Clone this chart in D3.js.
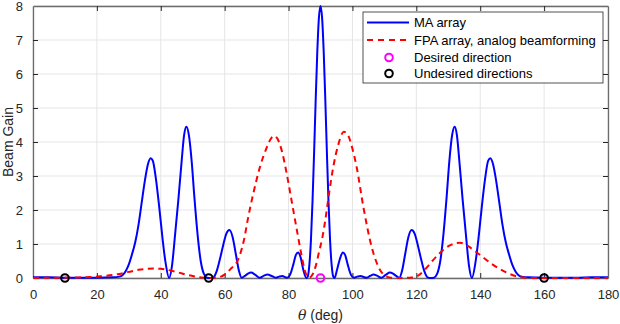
<!DOCTYPE html>
<html>
<head>
<meta charset="utf-8">
<script src="https://cdn.jsdelivr.net/npm/d3@7"></script>
<style>
  body { margin: 0; background: #fff; }
  svg { display: block; font-family: "Liberation Sans", Arial, Helvetica, sans-serif; }
</style>
</head>
<body>
<div id="chart"></div>
<script>
// MA array beam gain
var maTheta = [0, 5, 10, 15, 20, 25, 27, 28, 29, 30, 31, 32, 33, 34, 35, 36, 36.8, 37.5, 38.5, 39.5, 40.5, 41.5, 42.6,
  43.5, 44.5, 45.5, 46.5, 47.3, 48, 48.8, 49.7, 50.5, 51.5, 52.5, 53.5, 54.5, 55.5, 56.5, 57.5, 58.5, 59.5, 60.5, 61.5,
  62.5, 63.5, 64.5, 65.3, 66.3, 67.3, 68.3, 69.5, 71, 72.3, 73.4, 74.7, 76, 77, 78, 79.5, 80.5, 81.5, 82.3, 83, 83.8,
  84.6, 85.6, 86, 86.5, 87, 87.5, 88, 88.5, 89, 89.5, 90, 90.5, 91, 91.5, 92, 92.5, 93, 93.5, 94, 94.4, 95.2, 96.2, 97,
  97.7, 98.5, 99.5, 100.5, 101.5, 102.5, 103.5, 104.5, 105.5, 106.6, 107.7, 109, 110.5, 111.7, 112.7, 113.7, 114.7,
  115.5, 116.5, 117.5, 118.5, 119.5, 120.5, 121.5, 122.5, 123.5, 124.5, 125.5, 126.5, 127.5, 128.5, 129.5, 130.3, 131.2,
  132, 132.7, 133.5, 134.5, 135.5, 136.5, 137.4, 138.5, 139.5, 140.5, 141.5, 142.5, 143.2, 144, 145, 146, 147, 148, 149,
  150, 151, 152, 153, 155, 160, 165, 170, 175, 180];
var maGain = [0.02, 0.02, 0.01, 0.01, 0.01, 0.02, 0.04, 0.08, 0.2, 0.4, 0.7, 1.05, 1.55, 2.2, 2.85, 3.35, 3.52, 3.45, 2.9, 2.1, 1.2, 0.45, 0,
  0.35, 1.3, 2.3, 3.4, 4.2, 4.45, 4.2, 3.4, 2.4, 1.3, 0.5, 0.12, 0.01, 0, 0.02, 0.2, 0.55, 0.95, 1.3, 1.41,
  1.2, 0.7, 0.2, 0.01, 0.06, 0.13, 0.16, 0.1, 0.01, 0.07, 0.1, 0.06, 0.01, 0.04, 0.06, 0.01, 0.1, 0.4, 0.68, 0.75, 0.6,
  0.25, 0, 0.04, 0.37, 1.1, 2.25, 3.7, 5.26, 6.66, 7.65, 8, 7.65, 6.66, 5.26, 3.7, 2.25, 1.1, 0.37, 0.04, 0, 0.25, 0.6, 0.75,
  0.68, 0.4, 0.1, 0.01, 0.04, 0.06, 0.03, 0.01, 0.06, 0.1, 0.07, 0.01, 0.1, 0.16, 0.13, 0.06, 0.01,
  0.2, 0.7, 1.2, 1.41, 1.3, 0.95, 0.55, 0.2, 0.02, 0, 0.01, 0.12, 0.5, 1.3, 2.4, 3.4, 4.2,
  4.45, 4.2, 3.4, 2.3, 1.3, 0.35, 0, 0.45, 1.2, 2.1, 2.9, 3.45, 3.52, 3.35, 2.85, 2.2, 1.55, 1.05, 0.7,
  0.4, 0.2, 0.08, 0.04, 0.02, 0.01, 0.01, 0.01, 0.02, 0.02];

// FPA array, analog beamforming
var fpaTheta = [0, 5, 10, 15, 18, 21, 24, 27, 30, 33, 35.5, 37.7, 40, 42, 44, 46, 48, 50, 52, 54, 55.5, 57, 59, 60, 62,
  64, 66, 67.4, 69, 71, 73, 74.5, 75.5, 76.5, 78, 79.4, 81, 82.6, 84, 85, 86.3, 87.5, 88.5, 89.5, 90.5, 91.5, 92.7, 94,
  95.5, 97.3, 98.5, 100, 101.3, 103.4, 106, 108.6, 110.5, 112, 114, 116, 118, 119.5, 121, 123, 125, 127, 129, 131, 133.7,
  136, 138.5, 141, 143.5, 146, 148.5, 151, 153, 155, 160, 170, 180];
var fpaGain = [0, 0.01, 0.01, 0.02, 0.03, 0.05, 0.08, 0.12, 0.18, 0.24, 0.27, 0.28, 0.27, 0.24, 0.2, 0.15, 0.1, 0.06, 0.02, 0.005, 0, 0.01, 0.05, 0.1, 0.28,
  0.5, 1.1, 1.8, 2.5, 3.25, 3.8, 4.1, 4.18, 4.1, 3.7, 3.08, 2.25, 1.41, 0.7, 0.25, 0, 0.1, 0.35, 0.75, 1.15, 1.7, 2.5, 3.27,
  3.9, 4.3, 4.22, 3.8, 3.27, 2.1, 0.92, 0.24, 0.05, 0.01, 0, 0, 0.01, 0.02, 0.1, 0.28, 0.5, 0.7, 0.87, 0.98, 1.04,
  0.95, 0.78, 0.6, 0.42, 0.27, 0.15, 0.06, 0.02, 0, 0, 0, 0];

var desiredDir = [90];
var undesiredDirs = [10, 55, 160];

var xTicks = [0, 20, 40, 60, 80, 100, 120, 140, 160, 180];
var yTicks = [0, 1, 2, 3, 4, 5, 6, 7, 8];

var legendLabels = ["MA array", "FPA array, analog beamforming", "Desired direction", "Undesired directions"];

var width = 620, height = 324;
var margin = {top: 6, right: 12, bottom: 46, left: 33};
var innerW = width - margin.left - margin.right;
var innerH = height - margin.top - margin.bottom;

var svg = d3.select("#chart").append("svg")
  .attr("width", width)
  .attr("height", height);

var x = d3.scaleLinear().domain([0, 180]).range([0, innerW]);
var y = d3.scaleLinear().domain([0, 8]).range([innerH, 0]);

var g = svg.append("g").attr("transform", "translate(" + margin.left + "," + margin.top + ")");

// grid
g.append("g").selectAll("line").data(xTicks).enter().append("line")
  .attr("x1", d => x(d)).attr("x2", d => x(d))
  .attr("y1", 0).attr("y2", innerH)
  .style("stroke", "#e5e5e5").style("stroke-width", 1);
g.append("g").selectAll("line").data(yTicks).enter().append("line")
  .attr("x1", 0).attr("x2", innerW)
  .attr("y1", d => y(d)).attr("y2", d => y(d))
  .style("stroke", "#e5e5e5").style("stroke-width", 1);

// axes (inward ticks, box)
var xAxis = g.append("g").attr("transform", "translate(0," + innerH + ")")
  .call(d3.axisBottom(x).tickValues(xTicks).tickSizeInner(-5).tickSizeOuter(0).tickPadding(12));
var yAxis = g.append("g")
  .call(d3.axisLeft(y).tickValues(yTicks).tickSizeInner(-5).tickSizeOuter(0).tickPadding(10));
var xTop = g.append("g")
  .call(d3.axisTop(x).tickValues(xTicks).tickSizeInner(-5).tickSizeOuter(0).tickFormat(""));
var yRight = g.append("g").attr("transform", "translate(" + innerW + ",0)")
  .call(d3.axisRight(y).tickValues(yTicks).tickSizeInner(-5).tickSizeOuter(0).tickFormat(""));

[xAxis, yAxis, xTop, yRight].forEach(function(a) {
  a.select(".domain").style("stroke", "#6b6b6b").style("stroke-width", 1.3);
  a.selectAll(".tick line").style("stroke", "#262626");
  a.selectAll(".tick text").style("font-size", "13px").style("fill", "#262626")
    .style("font-family", "'Liberation Sans', Arial, sans-serif");
});
// axis ticks at ends drawn by the domain lines
xAxis.selectAll(".tick").filter(d => d === 0 || d === 180).select("line").remove();
xTop.selectAll(".tick").filter(d => d === 0 || d === 180).select("line").remove();
yAxis.selectAll(".tick").filter(d => d === 0 || d === 8).select("line").remove();
yRight.selectAll(".tick").filter(d => d === 0 || d === 8).select("line").remove();

svg.append("defs").append("clipPath").attr("id", "clip")
  .append("rect").attr("x", 0).attr("y", -1).attr("width", innerW).attr("height", innerH + 2);

var line = d3.line()
  .x(d => x(d[0]))
  .y(d => y(d[1]))
  .curve(d3.curveMonotoneX);

var plot = g.append("g").attr("clip-path", "url(#clip)");

plot.append("path")
  .datum(d3.zip(maTheta, maGain))
  .attr("d", line)
  .style("fill", "none")
  .style("stroke", "#0000ff")
  .style("stroke-width", 2);

plot.append("path")
  .datum(d3.zip(fpaTheta, fpaGain))
  .attr("d", line)
  .style("fill", "none")
  .style("stroke", "#ff0000")
  .style("stroke-width", 2)
  .style("stroke-dasharray", "6,4.5");

// direction markers
g.selectAll(".undesired").data(undesiredDirs).enter().append("circle")
  .attr("class", "undesired")
  .attr("cx", d => x(d)).attr("cy", y(0)).attr("r", 3.8)
  .style("fill", "none").style("stroke", "#000").style("stroke-width", 2);
g.selectAll(".desired").data(desiredDir).enter().append("circle")
  .attr("class", "desired")
  .attr("cx", d => x(d)).attr("cy", y(0)).attr("r", 3.8)
  .style("fill", "none").style("stroke", "#ff00ff").style("stroke-width", 2);

// axis labels
var xl = svg.append("text")
  .attr("x", margin.left + innerW / 2)
  .attr("y", 320)
  .attr("text-anchor", "middle")
  .style("font-size", "14px")
  .style("fill", "#262626");
xl.append("tspan").style("font-style", "italic").style("font-family", "'DejaVu Serif', serif").text("θ");
xl.append("tspan").text(" (deg)");

svg.append("text")
  .attr("transform", "translate(13," + (margin.top + innerH / 2) + ") rotate(-90)")
  .attr("text-anchor", "middle")
  .style("font-size", "14px")
  .style("fill", "#262626")
  .text("Beam Gain");

// legend
var lg = svg.append("g").attr("transform", "translate(363,12)");
lg.append("rect")
  .attr("width", 240).attr("height", 71)
  .style("fill", "#fff").style("stroke", "#262626").style("stroke-width", 0.8);

var rowY = [10.5, 28, 45.5, 61.5];
var items = lg.selectAll(".item").data(legendLabels).enter().append("g")
  .attr("class", "item")
  .attr("transform", (d, i) => "translate(0," + rowY[i] + ")");

items.append("text")
  .attr("x", 51).attr("dy", "0.35em")
  .style("font-size", "13px")
  .style("fill", "#000")
  .text(d => d);

items.filter((d, i) => i === 0).append("line")
  .attr("x1", 4).attr("x2", 46).attr("y1", 0).attr("y2", 0)
  .style("stroke", "#0000ff").style("stroke-width", 2);
items.filter((d, i) => i === 1).append("line")
  .attr("x1", 4).attr("x2", 46).attr("y1", 0).attr("y2", 0)
  .style("stroke", "#ff0000").style("stroke-width", 2).style("stroke-dasharray", "6,5");
items.filter((d, i) => i >= 2).append("circle")
  .attr("cx", 26).attr("cy", 0).attr("r", 3.8)
  .style("fill", "none").style("stroke-width", 2)
  .style("stroke", (d, i) => i === 0 ? "#ff00ff" : "#000");
</script>
</body>
</html>
